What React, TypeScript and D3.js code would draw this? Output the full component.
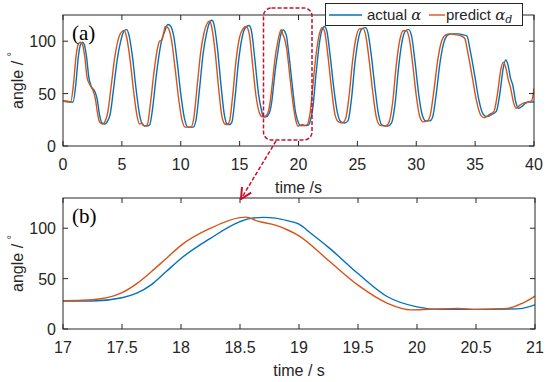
import React from 'react';
import * as d3 from 'd3';

const actualTime = [0, 0.5, 0.85, 1.1, 1.3, 1.5, 1.65, 1.8, 2.0, 2.2, 2.4, 2.7, 2.9, 3.1, 3.3, 3.55, 3.8, 4.0, 4.3, 4.6, 4.9, 5.2, 5.4, 5.6, 5.9, 6.2, 6.5, 6.8, 7.1, 7.35, 7.6, 7.9, 8.2, 8.4, 8.6, 8.9, 9.1, 9.4, 9.7, 10.0, 10.3, 10.6, 11.05, 11.3, 11.6, 11.9, 12.2, 12.5, 12.65, 12.8, 13.1, 13.4, 13.7, 13.95, 14.15, 14.35, 14.6, 14.9, 15.2, 15.5, 15.8, 16.0, 16.3, 16.6, 16.9, 17.0, 17.25, 17.5, 17.625, 17.75, 17.875, 18.0, 18.25, 18.5, 18.6, 18.7, 18.8, 18.9, 19.0, 19.1, 19.25, 19.5, 19.75, 20.0, 20.2, 20.5, 20.85, 21.0, 21.2, 21.5, 21.8, 22.0, 22.2, 22.4, 22.7, 23.0, 23.3, 23.6, 23.9, 24.2, 24.5, 24.8, 25.1, 25.4, 25.7, 25.9, 26.2, 26.5, 26.8, 27.1, 27.6, 27.9, 28.2, 28.5, 28.8, 29.1, 29.35, 29.6, 29.9, 30.2, 30.5, 30.8, 31.15, 31.4, 31.7, 32.0, 32.3, 32.7, 33.0, 33.6, 34.0, 34.3, 34.6, 35.0, 35.3, 35.7, 36.0, 36.4, 36.8, 37.1, 37.4, 37.6, 37.8, 38.0, 38.2, 38.45, 38.7, 39.0, 39.3, 39.6, 40.0];
const actualAngle = [43, 42, 42, 60, 85, 97, 99, 97, 85, 65, 57, 52, 45, 30, 22, 21, 24, 30, 55, 82, 100, 110, 111, 106, 85, 55, 30, 20, 19, 20, 35, 65, 90, 102, 108, 116, 115, 105, 80, 50, 27, 18, 18, 25, 55, 88, 108, 119, 120, 117, 95, 60, 30, 21, 20.5, 23, 45, 80, 103, 113, 115, 110, 82, 50, 32, 27.7, 27.8, 31, 35.5, 44, 57, 70, 90, 106.5, 110, 110.8, 110, 107.5, 104, 95, 81, 55, 32, 22, 19.5, 19.5, 20, 24, 35, 70, 100, 111, 114, 110, 85, 55, 32, 23, 22, 24, 45, 80, 103, 112, 113, 108, 85, 55, 30, 20, 19, 22, 40, 75, 100, 110, 111, 105, 80, 50, 30, 24, 24, 28, 50, 78, 97, 106, 107, 107, 106, 105, 90, 65, 45, 30, 28, 30, 33, 50, 75, 82, 77, 65, 58, 42, 36, 38, 41, 42, 42];

// predicted alpha_d (orange)
const predTime = [0, 0.3, 0.65, 0.9, 1.1, 1.3, 1.45, 1.65, 1.85, 2.05, 2.3, 2.55, 2.75, 2.95, 3.1, 3.35, 3.6, 3.8, 4.1, 4.4, 4.7, 5.0, 5.2, 5.4, 5.7, 6.0, 6.3, 6.5, 6.7, 6.9, 7.15, 7.4, 7.7, 8.0, 8.2, 8.4, 8.55, 8.7, 8.9, 9.2, 9.5, 9.8, 10.1, 10.4, 10.85, 11.1, 11.4, 11.7, 12.0, 12.3, 12.45, 12.6, 12.9, 13.2, 13.5, 13.75, 13.95, 14.15, 14.4, 14.7, 15.0, 15.3, 15.55, 15.8, 16.1, 16.4, 16.7, 16.9, 17.0, 17.25, 17.5, 17.625, 17.75, 17.875, 18.0, 18.25, 18.5, 18.55, 18.65, 18.8, 18.9, 19.0, 19.25, 19.5, 19.75, 19.95, 20.1, 20.35, 20.5, 20.77, 20.9, 21.0, 21.2, 21.5, 21.8, 22.0, 22.2, 22.5, 22.8, 23.1, 23.4, 23.7, 24.0, 24.3, 24.6, 24.9, 25.2, 25.5, 25.7, 26.0, 26.3, 26.6, 26.9, 27.4, 27.7, 28.0, 28.3, 28.6, 28.9, 29.15, 29.4, 29.7, 30.0, 30.3, 30.6, 30.95, 31.2, 31.5, 31.8, 32.1, 32.5, 32.8, 33.4, 33.8, 34.1, 34.4, 34.8, 35.1, 35.5, 35.8, 36.2, 36.6, 36.9, 37.2, 37.4, 37.6, 37.8, 38.0, 38.3, 38.5, 38.8, 39.1, 39.5, 39.8, 40.0];
const predAngle = [43, 43, 42, 60, 85, 97, 99, 97, 85, 65, 58, 53, 45, 30, 23, 21, 24, 32, 58, 85, 102, 109, 110, 104, 82, 52, 28, 21, 22, 19, 20, 38, 68, 92, 100, 101, 108, 114, 113, 102, 76, 47, 25, 18, 18, 26, 58, 90, 109, 118, 119, 115, 92, 57, 28, 21, 20.5, 24, 47, 82, 104, 112, 114, 108, 78, 47, 31, 28, 28, 29, 36, 45, 57, 70, 83, 100, 110.5, 111, 107, 103, 98.5, 92.5, 68, 43.5, 25.5, 19, 19.5, 20.5, 19.5, 20.5, 26, 32.6, 55, 88, 108, 113, 110, 86, 55, 30, 23, 22, 26, 48, 82, 104, 112, 112, 106, 82, 52, 28, 20, 19, 23, 42, 77, 101, 110, 110, 103, 78, 48, 28, 23, 24, 30, 53, 80, 98, 106, 107, 106, 105, 103, 88, 63, 44, 29, 27, 30, 33, 50, 74, 80, 75, 64, 56, 40, 36, 39, 41, 42, 43, 55];

const topXTicks = [0, 5, 10, 15, 20, 25, 30, 35, 40];
const zoomXTicks = [17, 17.5, 18, 18.5, 19, 19.5, 20, 20.5, 21];
const yTicks = [0, 50, 100];

const BLUE = '#0072BD';
const ORANGE = '#D95319';
const AX = '#262626';
const SANS = 'Liberation Sans, Arial, sans-serif';

type Pt = [number, number];
const actual: Pt[] = actualTime.map((t, i) => [t, actualAngle[i]]);
const pred: Pt[] = predTime.map((t, i) => [t, predAngle[i]]);

interface PanelProps {
  id: string;
  x0: number; x1: number; y0: number; y1: number;
  xDomain: [number, number];
  yMax: number;
  xTicks: number[];
  label: string;
  xLabel: string;
}

const Panel: React.FC<PanelProps> = ({ id, x0, x1, y0, y1, xDomain, yMax, xTicks, label, xLabel }) => {
  const x = d3.scaleLinear().domain(xDomain).range([x0, x1]);
  const y = d3.scaleLinear().domain([0, yMax]).range([y1, y0]);
  const line = d3.line<Pt>().x(d => x(d[0])).y(d => y(d[1])).curve(d3.curveMonotoneX);
  const tl = 5;
  return (
    <g>
      <defs>
        <clipPath id={`clip-${id}`}>
          <rect x={x0} y={y0} width={x1 - x0} height={y1 - y0} />
        </clipPath>
      </defs>
      <rect x={x0} y={y0} width={x1 - x0} height={y1 - y0} fill="#fff" />
      <g clipPath={`url(#clip-${id})`}>
        <path d={line(actual) || ''} fill="none" stroke={BLUE} strokeWidth={1.4} />
        <path d={line(pred) || ''} fill="none" stroke={ORANGE} strokeWidth={1.4} />
      </g>
      <rect x={x0} y={y0} width={x1 - x0} height={y1 - y0} fill="none" stroke={AX} strokeWidth={1} />
      {xTicks.map(t => (
        <g key={`x${t}`}>
          <line x1={x(t)} x2={x(t)} y1={y1} y2={y1 - tl} stroke={AX} />
          <line x1={x(t)} x2={x(t)} y1={y0} y2={y0 + tl} stroke={AX} />
          <text x={x(t)} y={y1 + 24} textAnchor="middle" fontSize={16} fontFamily={SANS} fill={AX}>{t}</text>
        </g>
      ))}
      {yTicks.map(t => (
        <g key={`y${t}`}>
          <line x1={x0} x2={x0 + tl} y1={y(t)} y2={y(t)} stroke={AX} />
          <line x1={x1} x2={x1 - tl} y1={y(t)} y2={y(t)} stroke={AX} />
          <text x={x0 - 7} y={y(t) + 6} textAnchor="end" fontSize={16} fontFamily={SANS} fill={AX}>{t}</text>
        </g>
      ))}
      <text x={(x0 + x1) / 2} y={y1 + 47} textAnchor="middle" fontSize={16} fontFamily={SANS} fill={AX}>{xLabel}</text>
      <text transform={`translate(23,${(y0 + y1) / 2}) rotate(-90)`} textAnchor="middle" fontSize={16} fontFamily={SANS} fill={AX}>
        angle / <tspan fontSize={11} dy={-8}>°</tspan>
      </text>
      <text x={x0 + 9} y={y0 + 25} fontSize={21} fontFamily="Liberation Serif, Times New Roman, serif" fill="#000">{label}</text>
    </g>
  );
};

export default function App() {
  return (
    <svg width={550} height={382} style={{ position: 'absolute', left: 0, top: 0, background: '#fff' }}>
      <defs>
        <marker id="arr" viewBox="0 0 10 10" refX={9} refY={5} markerWidth={9} markerHeight={9} orient="auto">
          <path d="M1,1 L9,5 L1,9" fill="none" stroke="#C8102E" strokeWidth={1.5} />
        </marker>
      </defs>
      <Panel id="a" x0={63} x1={534} y0={15} y1={146} xDomain={[0, 40]} yMax={125} xTicks={topXTicks} label="(a)" xLabel="time /s" />
      <Panel id="b" x0={63} x1={535} y0={198} y1={329} xDomain={[17, 21]} yMax={130} xTicks={zoomXTicks} label="(b)" xLabel="time / s" />

      {/* legend */}
      <g>
        <rect x={325.5} y={3.5} width={197} height={22} fill="#fff" stroke={AX} strokeWidth={1} />
        <line x1={329} x2={362} y1={15} y2={15} stroke={BLUE} strokeWidth={1.4} />
        <text x={367} y={20} fontSize={15} fontFamily={SANS} fill={AX}>
          actual <tspan fontFamily="DejaVu Serif, serif" fontStyle="italic">α</tspan>
        </text>
        <line x1={429} x2={445} y1={15} y2={15} stroke={ORANGE} strokeWidth={1.4} />
        <text x={446} y={20} fontSize={15} fontFamily={SANS} fill={AX}>
          predict <tspan fontFamily="DejaVu Serif, serif" fontStyle="italic">α</tspan>
          <tspan fontFamily="DejaVu Serif, serif" fontStyle="italic" fontSize={11} dy={3}>d</tspan>
        </text>
      </g>

      {/* zoom marker */}
      <rect x={263.5} y={8} width={48.5} height={132} rx={8} fill="none" stroke="#C8102E" strokeWidth={1.5} strokeDasharray="4,2" />
      <line x1={276} x2={241} y1={141} y2={199} stroke="#C8102E" strokeWidth={1.5} strokeDasharray="4,2" markerEnd="url(#arr)" />
    </svg>
  );
}
